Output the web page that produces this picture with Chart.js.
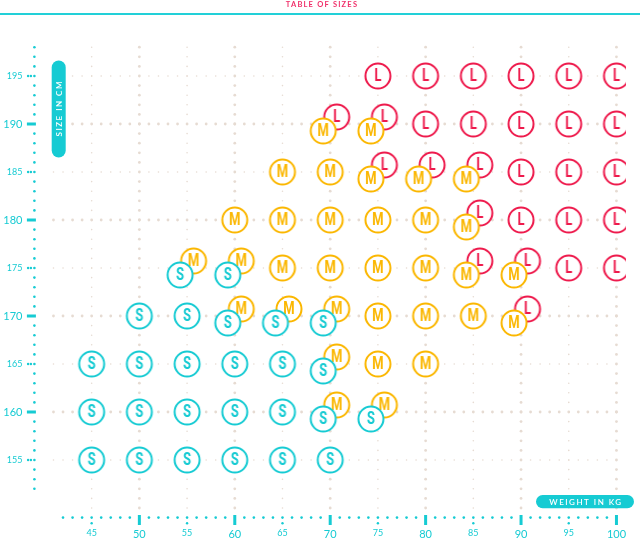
<!DOCTYPE html>
<html>
<head>
<meta charset="utf-8">
<title>Table of sizes</title>
<script src="https://cdn.jsdelivr.net/npm/chart.js@4.4.1/dist/chart.umd.min.js"></script>
<style>
  html, body { margin: 0; padding: 0; background: #fff; }
  #wrap { width: 640px; height: 542px; position: relative; }
</style>
</head>
<body>
<div id="wrap"><canvas id="sizes-chart"></canvas></div>
<script>
// sizes, smallest first
const sizeLabels = ['S', 'M', 'L'];
const sizeColors = ['#16cbd3', '#fbb700', '#ee1a4c'];

// [weight in kg, size in cm]
const sizeS = [
    [45, 155], [50, 155], [55, 155], [60, 155], [65, 155], [70, 155],
    [45, 160], [50, 160], [55, 160], [60, 160], [65, 160], [70, 160], [75, 160],
    [45, 165], [50, 165], [55, 165], [60, 165], [65, 165], [70, 165],
    [50, 170], [55, 170], [60, 170], [65, 170], [70, 170],
    [55, 175], [60, 175]
];
const sizeM = [
    [70, 160], [75, 160],
    [70, 165], [75, 165], [80, 165],
    [60, 170], [65, 170], [70, 170], [75, 170], [80, 170], [85, 170], [90, 170],
    [55, 175], [60, 175], [65, 175], [70, 175], [75, 175], [80, 175], [85, 175], [90, 175],
    [60, 180], [65, 180], [70, 180], [75, 180], [80, 180], [85, 180],
    [65, 185], [70, 185], [75, 185], [80, 185], [85, 185],
    [70, 190], [75, 190]
];
const sizeL = [
    [90, 170],
    [85, 175], [90, 175], [95, 175], [100, 175],
    [85, 180], [90, 180], [95, 180], [100, 180],
    [75, 185], [80, 185], [85, 185], [90, 185], [95, 185], [100, 185],
    [70, 190], [75, 190], [80, 190], [85, 190], [90, 190], [95, 190], [100, 190],
    [75, 195], [80, 195], [85, 195], [90, 195], [95, 195], [100, 195]
];

const xTicks = [45, 50, 55, 60, 65, 70, 75, 80, 85, 90, 95, 100];
const yTicks = [155, 160, 165, 170, 175, 180, 185, 190, 195];

const cyan = '#16cbd3';
const gridColor = '#e6dbd2';
const titleColor = '#f0306a';

// circle with the size letter, used as the point style
function makeMarker(letter, color) {
    const c = document.createElement('canvas');
    c.width = 30;
    c.height = 30;
    const g = c.getContext('2d');
    g.beginPath();
    g.arc(15, 15, 12.5, 0, Math.PI * 2);
    g.fillStyle = '#fff';
    g.fill();
    g.lineWidth = 2;
    g.strokeStyle = color;
    g.stroke();
    g.save();
    g.translate(15, 15.5);
    g.scale(0.72, 1);
    g.font = 'bold 18px Roboto';
    g.textAlign = 'center';
    g.textBaseline = 'middle';
    g.fillStyle = color;
    g.fillText(letter, 0, 0);
    g.restore();
    return c;
}

function dot(ctx, x, y, r) {
    ctx.beginPath();
    ctx.arc(x, y, r, 0, Math.PI * 2);
    ctx.fill();
}

function pill(ctx, x, y, w, h) {
    ctx.beginPath();
    ctx.roundRect(x, y, w, h, Math.min(w, h) / 2);
    ctx.fill();
}

const sizeDecor = {
    id: 'sizeDecor',
    // when two sizes share a spot, push the bigger one up-right and the smaller one down-left
    afterDatasetsUpdate(chart) {
        const sets = chart.data.datasets;
        sets.forEach((ds, i) => {
            const meta = chart.getDatasetMeta(i);
            meta.data.forEach((el, j) => {
                const p = ds.data[j];
                let hasBigger = false, hasSmaller = false;
                sets.forEach((other, k) => {
                    if (k === i) return;
                    if (other.data.some(q => q.x === p.x && q.y === p.y)) {
                        if (k > i) hasBigger = true; else hasSmaller = true;
                    }
                });
                if (hasBigger) { el.x -= 7; el.y += 7; }
                else if (hasSmaller) { el.x += 6.5; el.y -= 7; }
            });
        });
    },
    beforeDatasetsDraw(chart) {
        const ctx = chart.ctx;
        const xs = chart.scales.x;
        const ys = chart.scales.y;
        ctx.save();

        // dotted grid
        ctx.fillStyle = gridColor;
        xTicks.forEach(v => {
            const px = xs.getPixelForValue(v);
            const r = v % 10 === 0 ? 1.4 : 0.8;
            for (let h = 150; h <= 198; h++) dot(ctx, px, ys.getPixelForValue(h), r);
        });
        yTicks.forEach(v => {
            const py = ys.getPixelForValue(v);
            const r = v % 10 === 0 ? 1.4 : 0.8;
            for (let w = 41; w <= 100; w++) dot(ctx, xs.getPixelForValue(w), py, r);
        });

        // dotted axes with tick marks
        ctx.fillStyle = cyan;
        const ax = xs.getPixelForValue(39);
        for (let h = 152; h <= 198; h++) {
            const py = ys.getPixelForValue(h);
            const isTick = yTicks.includes(h);
            if (isTick && h % 10 === 0) {
                ctx.fillRect(ax - 7.5, py - 1.5, 9, 3);
            } else {
                dot(ctx, ax, py, 1.3);
                if (isTick) {
                    dot(ctx, ax - 6.3, py, 1.2);
                    dot(ctx, ax - 3.5, py, 1.2);
                }
            }
        }
        const ay = ys.getPixelForValue(149);
        for (let w = 42; w <= 100; w++) {
            const px = xs.getPixelForValue(w);
            const isTick = xTicks.includes(w);
            if (isTick && w % 10 === 0) {
                ctx.fillRect(px - 1.5, ay - 2.6, 3, 10);
            } else {
                dot(ctx, px, ay, 1.3);
                if (isTick) dot(ctx, px, ay + 5.6, 1.2);
            }
        }
        ctx.restore();
    },
    afterDraw(chart) {
        const ctx = chart.ctx;
        ctx.save();

        // header
        ctx.font = 'bold 7.5px Lato';
        ctx.letterSpacing = '1.2px';
        ctx.fillStyle = titleColor;
        ctx.textAlign = 'center';
        ctx.textBaseline = 'middle';
        ctx.fillText('TABLE OF SIZES', 322, 5);
        ctx.fillStyle = '#22d0d8';
        ctx.fillRect(0, 13, 640, 2);

        // axis name badges
        ctx.fillStyle = cyan;
        pill(ctx, 51.7, 60.5, 14, 97);
        pill(ctx, 536, 495, 98, 13.3);
        ctx.fillStyle = '#fff';
        ctx.font = '600 8px Lato';
        ctx.letterSpacing = '1.5px';
        ctx.fillText('WEIGHT IN KG', 586, 502);
        ctx.translate(59, 109);
        ctx.rotate(-Math.PI / 2);
        ctx.fillText('SIZE IN CM', 0.7, 0);
        ctx.restore();
    }
};

const tickFont = c => ({
    family: 'Lato',
    size: c.tick && c.tick.value % 10 === 0 ? 11 : 9
});

new Chart(document.getElementById('sizes-chart'), {
    type: 'scatter',
    data: {
        datasets: [sizeS, sizeM, sizeL].map((pts, i) => ({
            label: sizeLabels[i],
            data: pts.map(([w, h]) => ({ x: w, y: h })),
            pointStyle: makeMarker(sizeLabels[i], sizeColors[i]),
            pointRadius: 13,
            pointHoverRadius: 13
        }))
    },
    options: {
        responsive: true,
        maintainAspectRatio: false,
        animation: false,
        events: [],
        layout: { padding: { top: 37.6, right: 10.4, bottom: 0, left: 0 } },
        plugins: {
            legend: { display: false },
            tooltip: { enabled: false }
        },
        scales: {
            x: {
                type: 'linear',
                min: 39,
                max: 101,
                afterBuildTicks: s => { s.ticks = xTicks.map(v => ({ value: v })); },
                afterFit: s => { s.height = 24.4; s.paddingLeft = 0; s.paddingRight = 0; },
                grid: { display: false, drawTicks: false },
                border: { display: false },
                ticks: { color: cyan, padding: 10, maxRotation: 0, autoSkip: false, font: tickFont }
            },
            y: {
                type: 'linear',
                min: 149,
                max: 199,
                afterBuildTicks: s => { s.ticks = yTicks.map(v => ({ value: v })); },
                afterFit: s => { s.width = 34.4; s.paddingTop = 0; s.paddingBottom = 0; },
                grid: { display: false, drawTicks: false },
                border: { display: false },
                ticks: { color: cyan, padding: 12, autoSkip: false, font: tickFont }
            }
        }
    },
    plugins: [sizeDecor]
});
</script>
</body>
</html>
